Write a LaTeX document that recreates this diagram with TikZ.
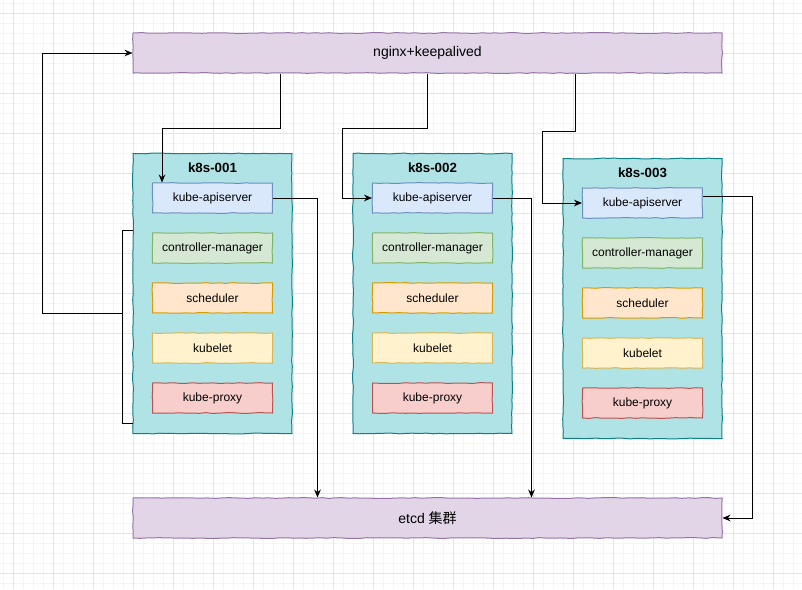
\documentclass[tikz,border=0pt]{standalone}
\usepackage{fontspec}
\setmainfont{Liberation Sans}
\newfontfamily\cjkfont{Noto Sans CJK SC}
\usepackage{tikz}
\usetikzlibrary{arrows.meta, positioning, calc, decorations.pathmorphing}
\usepackage{xcolor}

\definecolor{lbfill}{HTML}{E1D5E7}
\definecolor{lbdraw}{HTML}{9673A6}
\definecolor{hostfill}{HTML}{B0E3E6}
\definecolor{hostdraw}{HTML}{0E8088}
\definecolor{apif}{HTML}{DAE8FC}
\definecolor{apid}{HTML}{6C8EBF}
\definecolor{ctlf}{HTML}{D5E8D4}
\definecolor{ctld}{HTML}{82B366}
\definecolor{schf}{HTML}{FFE6CC}
\definecolor{schd}{HTML}{D79B00}
\definecolor{kltf}{HTML}{FFF2CC}
\definecolor{kltd}{HTML}{D6B656}
\definecolor{prxf}{HTML}{F8CECC}
\definecolor{prxd}{HTML}{B85450}

\begin{document}
\begin{tikzpicture}[x=0.75pt, y=-0.75pt, font=\fontsize{9}{11}\selectfont,
  sketch/.style={decorate, decoration={random steps, segment length=5pt, amplitude=0.3pt}},
  lbbox/.style={sketch, draw=lbdraw, fill=lbfill, line width=0.75pt, minimum width=441.75pt, minimum height=30pt, inner sep=0pt, font=\fontsize{10.5}{12}\selectfont},
  host/.style={sketch, draw=hostdraw, fill=hostfill, line width=0.75pt, minimum width=119.25pt, minimum height=210pt, inner sep=0pt},
  comp/.style={sketch, line width=0.75pt, minimum width=90pt, minimum height=22.5pt, inner sep=0pt},
  title/.style={font=\fontsize{10}{12}\selectfont\bfseries},
  arr/.style={-{Stealth[length=6pt, width=5pt]}, line width=0.75pt},
  minor/.style={gray!8, line width=0.75pt},
  major/.style={gray!20, line width=0.75pt}]
  \pgfmathsetseed{11}
  \useasboundingbox (0,0) rectangle (802,589);
  % background grid
  \foreach \x in {3,13,...,803} \draw[minor] (\x,0) -- (\x,589);
  \foreach \y in {3,13,...,593} \draw[minor] (0,\y) -- (802,\y);
  \foreach \x in {13,53,...,813} \draw[major] (\x,0) -- (\x,589);
  \foreach \y in {13,53,...,593} \draw[major] (0,\y) -- (802,\y);

  % load balancer and etcd
  \node[lbbox] (ngx) at (427.5,53) {nginx+keepalived};
  \node[lbbox] (etcd) at (427.5,518) {etcd {\cjkfont 集群}};

  % master hosts
  \foreach \h/\x/\y/\l in {1/212.5/153/k8s-001, 2/432.5/153/k8s-002, 3/642.5/158/k8s-003} {
    \node[host, anchor=north] (k\h) at (\x,\y) {};
    \node[title] (t\h) at ($(k\h.north)+(0,15)$) {\l};
    \foreach \c/\f/\d/\t [count=\i] in {ap/apif/apid/kube-apiserver, cm/ctlf/ctld/controller-manager,
        sc/schf/schd/scheduler, kl/kltf/kltd/kubelet, kp/prxf/prxd/kube-proxy} {
      \node[comp, fill=\f, draw=\d] (\c\h) at ($(k\h.north)+(0,{45+50*(\i-1)})$) {\t};
    }
  }

  % nginx -> apiserver
  \draw[arr] ($(ngx.south west)!0.25!(ngx.south east)$) -- ++(0,55) -| ($(ap1.north west)+(10,0)$);
  \draw[arr] (ngx.south) -- ++(0,55) -| ($(ap2.west)+(-30,0)$) -- (ap2.west);
  \draw[arr] ($(ngx.south west)!0.75!(ngx.south east)$) -- ++(0,58) -| ($(ap3.west)+(-40,0)$) -- (ap3.west);
  % apiserver -> etcd
  \draw[arr] (ap1.east) -| ($(etcd.north west)+(185,0)$);
  \draw[arr] (ap2.east) -| ($(etcd.north west)+(399,0)$);
  \draw[arr] ($(ap3.east)+(0,-7)$) -- ++(49,0) |- (etcd.east);
  % bracket back to nginx
  \draw[line width=0.75pt] ($(k1.north west)+(0,77)$) -- ++(-10,0) coordinate (b1) -- ++(0,193) -- ++(10,0);
  \draw[arr] ($(b1)+(0,83)$) -- ++(-80,0) |- (ngx.west);
\end{tikzpicture}
\end{document}
